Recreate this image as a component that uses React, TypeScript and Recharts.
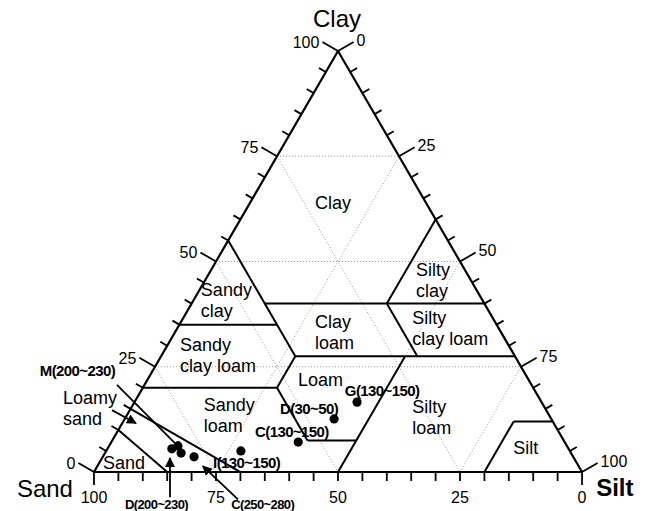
import { ReferenceLine, Scatter, ScatterChart, XAxis, YAxis } from 'recharts'

const CHART_W = 646
const CHART_H = 511
// plot plane: x = silt + clay / 2, y = clay (both in %)
const X_MIN = -19.26
const X_MAX = 113.11
const Y_MIN = -9.26
const Y_MAX = 112.11
const PX_X = CHART_W / (X_MAX - X_MIN)
const PX_Y = CHART_H / (Y_MAX - Y_MIN)

const FONT = "'Liberation Sans', Arial, sans-serif"

// soil samples (%)
const sampleNames = [
    'D(200~230)',
    'M(200~230)',
    'M(200~230)',
    'C(250~280)',
    'I(130~150)',
    'C(130~150)',
    'D(30~50)',
    'G(130~150)',
]
const sampleSand = [81.3, 79.7, 79.9, 77.7, 67.4, 54.6, 44.5, 37.8]
const sampleSilt = [13.2, 14.1, 15.6, 18.7, 27.6, 38.3, 42.9, 45.6]
const sampleClay = [5.5, 6.2, 4.5, 3.6, 5.0, 7.1, 12.6, 16.6]

// USDA texture class boundaries, [clay, silt] -> [clay, silt]
const boundaryFrom = [
    [40, 15], [55, 0], [35, 0], [40, 40], [40, 40], [27.5, 27.5], [20, 0],
    [20, 27.5], [20, 27.5], [7.5, 40], [27.5, 50], [0, 80], [12, 80], [15, 0], [10, 0],
]
const boundaryTo = [
    [40, 60], [27.5, 27.5], [35, 20], [60, 40], [27.5, 52.5], [27.5, 72.5], [20, 27.5],
    [27.5, 27.5], [7.5, 40], [7.5, 50], [0, 50], [12, 80], [12, 88], [0, 30], [0, 15],
]

// triangle corners [clay, silt]: sand, silt, clay
const corners = [[0, 0], [0, 100], [100, 0]]

const gridValues = [25, 50, 75]
const tickValues = [0, 5, 10, 15, 20, 25, 30, 35, 40, 45, 50, 55, 60, 65, 70, 75, 80, 85, 90, 95, 100]
const tickLabels = ['0', '25', '50', '75', '100']

const regionNames = [
    ['Clay'], ['Sandy', 'clay'], ['Sandy', 'clay loam'], ['Clay', 'loam'], ['Silty', 'clay'],
    ['Silty', 'clay loam'], ['Loam'], ['Sandy', 'loam'], ['Silty', 'loam'], ['Silt'],
    ['Loamy', 'sand'], ['Sand'],
]
// where each class name sits (plane units)
const regionAt = [
    [49.0, 63.9], [21.9, 43.2], [17.6, 30.2], [45.3, 35.6], [66.0, 48.0],
    [65.2, 36.6], [41.8, 21.9], [22.5, 15.9], [65.2, 15.4], [85.9, 5.7],
    [-6.35, 17.6], [1.84, 2.1],
]

const sampleLabels = ['M(200~230)', 'G(130~150)', 'D(30~50)', 'C(130~150)', 'I(130~150)', 'D(200~230)', 'C(250~280)']
const sampleLabelAt = [
    [-11.1, 24.2], [51.4, 19.5], [38.1, 15.2], [33.0, 9.7], [24.4, 2.4], [6.35, -7.5], [28.1, -7.5],
]

// arrows, tail -> head (plane units)
const arrowFrom = [[4.71, 20.7], [3.69, 14.7], [15.57, -6.0], [29.5, -6.5]]
const arrowTo = [[18.0, 5.2], [8.6, 11.6], [15.57, 3.3], [22.3, 1.4]]

const plane = (clay: number, silt: number) => ({ x: silt + clay / 2, y: clay })
const shift = (p: { x: number; y: number }, dx: number, dy: number) => ({
    x: p.x + dx / PX_X,
    y: p.y - dy / PX_Y,
})

const samples = sampleNames.map((name, i) => ({
    name,
    sand: sampleSand[i],
    ...plane(sampleClay[i], sampleSilt[i]),
}))

type Seg = { a: { x: number; y: number }; b: { x: number; y: number } }

const edges: Seg[] = corners.map((c, i) => {
    const n = corners[(i + 1) % 3]
    return { a: plane(c[0], c[1]), b: plane(n[0], n[1]) }
})

const classLines: Seg[] = boundaryFrom.map((f, i) => ({
    a: plane(f[0], f[1]),
    b: plane(boundaryTo[i][0], boundaryTo[i][1]),
}))

const gridLines: Seg[] = gridValues.flatMap(v => [
    { a: plane(v, 0), b: plane(v, 100 - v) },
    { a: plane(100 - v, 0), b: plane(0, 100 - v) },
    { a: plane(0, v), b: plane(100 - v, v) },
])

const C30 = Math.cos(Math.PI / 6)
const tickLines: Seg[] = []
const labelData: any[] = []
tickValues.forEach(v => {
    const major = v % 25 === 0
    const len = major ? 18 : 8
    // left axis: clay
    const l = plane(v, 0)
    tickLines.push({ a: l, b: shift(l, -C30 * len, -0.5 * len) })
    // right axis: silt
    const r = plane(100 - v, v)
    tickLines.push({ a: r, b: shift(r, C30 * len, -0.5 * len) })
    // bottom axis: sand
    const b = plane(0, 100 - v)
    const blen = v === 0 || v === 100 ? 13 : 9
    tickLines.push({ a: b, b: shift(b, 0, blen) })
    if (major) {
        const text = tickLabels[v / 25]
        labelData.push({ ...shift(l, -C30 * len - 3, -0.5 * len), lines: [text], anchor: 'end', size: 16 })
        labelData.push({ ...shift(r, C30 * len + 3, -0.5 * len - 2), lines: [text], anchor: 'start', size: 16 })
        labelData.push({ ...shift(b, 0, 25), lines: [text], anchor: 'middle', size: 16 })
    }
})

regionNames.forEach((lines, i) => {
    labelData.push({
        x: regionAt[i][0],
        y: regionAt[i][1],
        lines,
        anchor: i === 0 ? 'middle' : 'start',
        size: 18,
    })
})

sampleLabels.forEach((text, i) => {
    labelData.push({
        x: sampleLabelAt[i][0],
        y: sampleLabelAt[i][1],
        lines: [text],
        anchor: 'start',
        size: i >= 5 ? 13 : 15,
        weight: 'bold',
    })
})

labelData.push({ x: 49.8, y: 107.8, lines: ['Clay'], anchor: 'middle', size: 24 })
labelData.push({ x: -15.8, y: -3.8, lines: ['Sand'], anchor: 'start', size: 24 })
labelData.push({ x: 102.9, y: -3.6, lines: ['Silt'], anchor: 'start', size: 24, weight: 'bold' })

function TextShape(props: any) {
    const { cx, cy, payload } = props
    return (
        <text
            x={cx}
            y={cy}
            textAnchor={payload.anchor}
            dominantBaseline="central"
            fontSize={payload.size}
            fontWeight={payload.weight ?? 'normal'}
            fontFamily={FONT}
            letterSpacing={payload.weight && payload.size < 20 ? -0.6 : 0}
            fill="#000"
        >
            {payload.lines.map((line: string, i: number) => (
                <tspan key={i} x={cx} dy={i === 0 ? 0 : 21}>
                    {line}
                </tspan>
            ))}
        </text>
    )
}

function Dot(props: any) {
    return <circle cx={props.cx} cy={props.cy} r={4.6} fill="#000" />
}

const segLine = (s: Seg, key: string, style: any) => (
    <ReferenceLine
        key={key}
        segment={[s.a, s.b]}
        ifOverflow="visible"
        {...style}
    />
)

export default function App() {
    return (
        <div style={{ position: 'absolute', left: 0, top: 0, background: '#fff' }}>
            <ScatterChart
                width={CHART_W}
                height={CHART_H}
                margin={{ top: 0, right: 0, bottom: 0, left: 0 }}
            >
                <defs>
                    <marker
                        id="arrowHead"
                        viewBox="0 0 10 10"
                        refX="9"
                        refY="5"
                        markerWidth="10"
                        markerHeight="10"
                        markerUnits="userSpaceOnUse"
                        orient="auto"
                    >
                        <path d="M0,0 L10,5 L0,10 z" fill="#000" />
                    </marker>
                </defs>
                <XAxis type="number" dataKey="x" domain={[X_MIN, X_MAX]} allowDataOverflow hide />
                <YAxis type="number" dataKey="y" domain={[Y_MIN, Y_MAX]} allowDataOverflow hide />
                {gridLines.map((s, i) =>
                    segLine(s, `g${i}`, { stroke: '#999', strokeWidth: 1, strokeDasharray: '1 2' }),
                )}
                {classLines.map((s, i) =>
                    segLine(s, `c${i}`, { stroke: '#000', strokeWidth: 2 }),
                )}
                {edges.map((s, i) => segLine(s, `e${i}`, { stroke: '#000', strokeWidth: 2.2 }))}
                {tickLines.map((s, i) => segLine(s, `t${i}`, { stroke: '#000', strokeWidth: 1.8 }))}
                {arrowFrom.map((f, i) =>
                    segLine(
                        { a: { x: f[0], y: f[1] }, b: { x: arrowTo[i][0], y: arrowTo[i][1] } },
                        `a${i}`,
                        { stroke: '#000', strokeWidth: 1.8, markerEnd: 'url(#arrowHead)' },
                    ),
                )}
                <Scatter data={samples} shape={Dot} isAnimationActive={false} />
                <Scatter data={labelData} shape={TextShape} isAnimationActive={false} />
            </ScatterChart>
        </div>
    )
}
